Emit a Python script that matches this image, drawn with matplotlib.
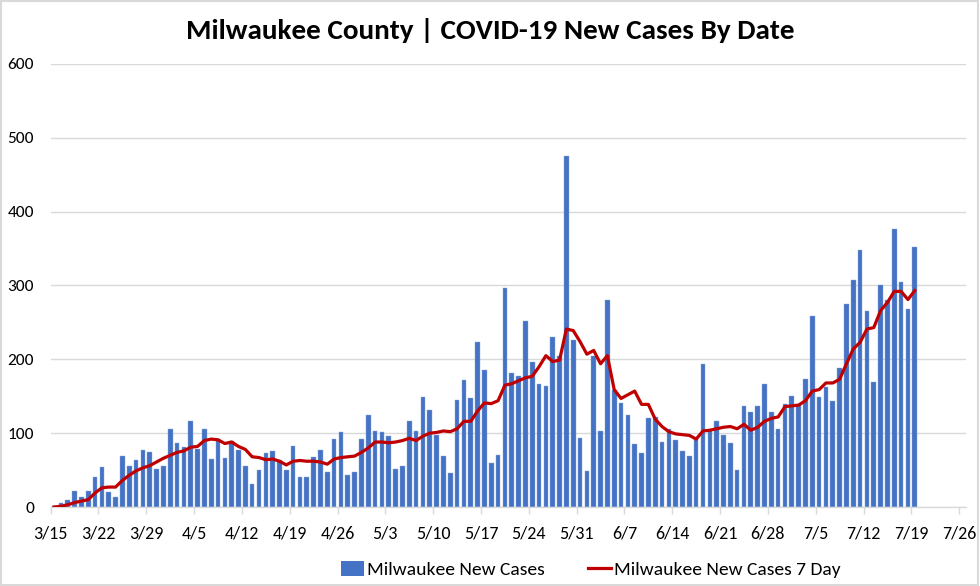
import matplotlib
matplotlib.use('Agg')
import matplotlib.pyplot as plt
from matplotlib import font_manager
from matplotlib.patches import Rectangle
from matplotlib.lines import Line2D
import numpy as np

# Calibri look-alikes, first one that is installed wins
installed = set(f.name for f in font_manager.fontManager.ttflist)
fonts = [f for f in ['Carlito', 'Liberation Sans Narrow', 'Lato', 'Open Sans'] if f in installed]
plt.rcParams['font.family'] = fonts[:1] + ['DejaVu Sans']

# daily new cases, 3/15 .. 7/19
new_cases = [
    # March 15-31
    1, 5, 10, 22, 13, 22, 40, 54, 21, 13, 69, 55, 63, 77, 74, 51, 55,
    # April
    105, 87, 81, 116, 78, 106, 65, 92, 66, 90, 77, 55, 31, 50, 73, 76, 64, 50, 83, 40,
    41, 68, 77, 48, 92, 102, 44, 47, 92, 125,
    # May
    103, 102, 96, 51, 56, 116, 103, 149, 131, 97, 69, 46, 145, 172, 148, 223, 186, 59,
    70, 296, 182, 178, 252, 197, 167, 164, 230, 204, 476, 226, 93,
    # June
    49, 205, 103, 280, 159, 141, 124, 86, 73, 121, 122, 88, 106, 91, 76, 69, 93, 194,
    104, 117, 98, 87, 50, 137, 129, 137, 166, 129, 105, 140,
    # July 1-19
    151, 140, 173, 259, 149, 163, 143, 188, 275, 308, 348, 266, 169, 300, 280, 377, 305, 268, 352,
]

# 7 day average line, same days
avg_7day = [
    0, 1, 3, 6, 8, 10, 19, 26, 27, 27, 36, 43, 49, 53, 56, 61, 66,
    70, 74, 76, 81, 82, 90, 92, 91, 86, 88, 82, 78, 68, 67, 64, 65, 62, 57, 62, 63,
    62, 62, 61, 58, 65, 67, 68, 69, 74, 80,
    88, 88, 87, 88, 90, 93, 90, 96, 100, 101, 103, 102, 106, 116, 116, 130, 141, 140,
    144, 165, 167, 171, 175, 177, 190, 205, 197, 199, 241, 239, 224,
    207, 212, 194, 205, 159, 147, 152, 157, 139, 139, 119, 109, 102, 99, 98, 97, 92, 103,
    104, 106, 108, 109, 106, 112, 104, 108, 116, 120, 122, 136,
    137, 138, 144, 157, 159, 168, 168, 173, 194, 214, 223, 241, 243, 266, 277, 292, 292, 281, 293,
]

tick_labels = ['3/15', '3/22', '3/29', '4/5', '4/12', '4/19', '4/26', '5/3', '5/10', '5/17',
               '5/24', '5/31', '6/7', '6/14', '6/21', '6/28', '7/5', '7/12', '7/19', '7/26']

x = np.arange(len(new_cases)) + 0.5

fig = plt.figure(figsize=(9.8, 5.86), dpi=100)
ax = fig.add_axes([0.0517, 0.1348, 0.9340, 0.7560])

ax.bar(x, new_cases, width=0.68, color='#4472C4', edgecolor='#8FAADC', linewidth=0.3, zorder=2)
ax.plot(x, avg_7day, color='#C00000', linewidth=2.3, solid_joinstyle='round', zorder=3)

ax.set_xlim(0, 134)
ax.set_ylim(0, 600)
ax.set_yticks(range(0, 601, 100))
ax.set_xticks(np.arange(len(tick_labels)) * 7)
ax.set_xticklabels(tick_labels)

ax.grid(axis='y', color='#D9D9D9', linewidth=1.0, zorder=0)
ax.set_axisbelow(True)
for s in ['top', 'right', 'left']:
    ax.spines[s].set_visible(False)
ax.spines['bottom'].set_color('#D9D9D9')
ax.spines['bottom'].set_linewidth(1.0)
ax.tick_params(axis='x', colors='#D9D9D9', length=5, width=1.0, labelcolor='black',
               labelsize=13, pad=8)
ax.tick_params(axis='y', length=0, labelsize=12.5, pad=12)

fig.text(0.5, 0.948, 'Milwaukee County | COVID-19 New Cases By Date', ha='center', va='center',
         fontsize=21, fontweight='bold')

handles = [Rectangle((0, 0), 1, 1, facecolor='#4472C4'),
           Line2D([], [], color='#C00000', linewidth=2.3)]
fig.legend(handles, ['Milwaukee New Cases', 'Milwaukee New Cases 7 Day'],
           loc='center', bbox_to_anchor=(0.603, 0.028), ncol=2, frameon=False, fontsize=14,
           handlelength=1.2, handleheight=0.8, columnspacing=2.2, handletextpad=0.15)

fig.patches.append(Rectangle((0.001, 0.002), 0.997, 0.996, transform=fig.transFigure,
                             fill=False, edgecolor='#D9D9D9', linewidth=1.5))

plt.savefig('out.png', dpi=100)
